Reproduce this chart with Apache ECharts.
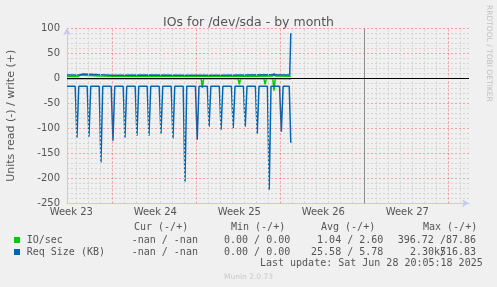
<!DOCTYPE html>
<html><head><meta charset="utf-8">
<script src="https://cdn.jsdelivr.net/npm/echarts@6/dist/echarts.min.js"></script>
<style>html,body{margin:0;padding:0;background:#f0f0f0;} #c{width:497px;height:287px;}</style>
</head><body><div id="c"></div>
<script>
// x unit: days, 0 = start (Monday) of Week 23
const xRange = [-3.78, 29.72];
const yRange = [-250, 100];
const weekLabels = ['Week 23', 'Week 24', 'Week 25', 'Week 26', 'Week 27'];
const weekLabelPos = [-3.42, 3.58, 10.58, 17.58, 24.58];
const weekBoundaries = [0, 7, 14, 21, 28];
const dayLines = [-3,-2,-1,1,2,3,4,5,6,8,9,10,11,12,13,15,16,17,18,19,20,22,23,24,25,26,27,29];
const nowLine = 21;

// IO/sec write (+)
const ioWrite = [[-3.78,3.5],[-2.9,3.5],[-2.7,6],[-2.4,6],[-2.25,4.5],[-1,4.5],[0,4],[2,4.5],[4,4],[6,4.5],
  [8,4],[10,4.5],[12,4],[13.35,4.5],[13.47,10],[13.6,4.5],[14.87,4]];
// IO/sec read (-)
const ioRead = [[-3.78,-0.8],[-3.46,-0.8],[-3.38,-2.5],[-3.3,-0.8],[-2.91,-0.8],[-2.83,-2.5],[-2.75,-0.8],
  [-1.94,-0.8],[-1.86,-2.5],[-1.78,-0.8],[-0.96,-0.8],[-0.88,-2.5],[-0.8,-0.8],[-0.02,-0.8],[0.06,-2.5],[0.14,-0.8],
  [0.98,-0.8],[1.06,-2.5],[1.14,-0.8],[2,-0.8],[2.08,-2.5],[2.16,-0.8],[3,-0.8],[3.08,-2.5],[3.16,-0.8],
  [3.98,-0.8],[4.06,-2.5],[4.14,-0.8],[5,-0.8],[5.08,-2.5],[5.16,-0.8],[5.98,-0.8],[6.06,-2.5],[6.14,-0.8],
  [7.4,-0.8],[7.5,-19],[7.6,-0.8],[8.06,-0.8],[8.14,-2.5],[8.22,-0.8],[9.02,-0.8],[9.1,-2.5],[9.18,-0.8],
  [9.98,-0.8],[10.06,-2.5],[10.14,-0.8],[10.48,-0.8],[10.58,-12],[10.68,-0.8],[11.12,-0.8],[11.2,-2.5],[11.28,-0.8],
  [12.06,-0.8],[12.14,-2.5],[12.22,-0.8],[12.63,-0.8],[12.73,-12],[12.83,-0.8],[13.37,-0.8],[13.47,-25],[13.57,-0.8],
  [14.02,-0.8],[14.1,-2.5],[14.18,-0.8],[14.75,-0.8],[14.83,-3],[14.87,-1]];
// Req Size write (+)
const reqWrite = [[-3.78,6.5],[-2.75,6.5],[-2.65,8.6],[-2.45,8.6],[-2.35,6.5],[0,6],[3,6.5],[6,6],[9,6],
  [11,6.5],[13,7],[14.78,6.5],[14.87,90]];
// Req Size read (-)
const reqRead = [[-3.78,-16],
  [-3.1,-16],[-2.95,-119],[-2.8,-16],[-2.1,-16],[-1.95,-117],[-1.8,-16],
  [-1.1,-16],[-0.95,-169],[-0.8,-16],[-0.1,-16],[0.05,-125],[0.2,-16],
  [0.9,-16],[1.05,-119],[1.2,-16],[1.9,-16],[2.05,-115],[2.2,-16],
  [2.9,-16],[3.05,-115],[3.2,-16],[3.9,-16],[4.05,-111],[4.2,-16],
  [4.9,-16],[5.05,-121],[5.2,-16],[5.9,-16],[6.05,-207],[6.2,-16],
  [6.92,-16],[7.07,-123],[7.22,-16],[7.91,-16],[8.06,-97],[8.21,-16],
  [8.91,-16],[9.06,-103],[9.21,-16],[9.92,-16],[10.07,-100],[10.22,-16],
  [10.92,-16],[11.07,-97],[11.22,-16],[11.92,-16],[12.07,-111],[12.22,-16],
  [12.92,-16],[13.07,-223],[13.22,-16],[13.93,-16],[14.08,-107],[14.23,-16],
  [14.74,-16],[14.87,-129]];

const legendHeader = ['Cur (-/+)', 'Min (-/+)', 'Avg (-/+)', 'Max (-/+)'];
const legendNames = ['IO/sec', 'Req Size (KB)'];
const legendColors = ['#00cc00', '#0066b3'];
const legendCur = ['-nan / -nan', '-nan / -nan'];
const legendMin = ['0.00 / 0.00', '0.00 / 0.00'];
const legendAvg = ['1.04 / 2.60', '25.58 / 5.78'];
const legendMax = ['396.72 /87.86', null];
const lastUpdate = 'Last update: Sat Jun 28 20:05:18 2025';

const FG = '#555';
const MONO = '"DejaVu Sans Mono", monospace';
const SANS = '"DejaVu Sans", sans-serif';
const mono = (text, x, y, align) => ({type:'text', x, y, style:{text, font:'10px '+MONO, fill:FG, align: align||'left', verticalAlign:'middle'}});

const rowY = [240, 252];
const graphics = [];
legendHeader.forEach((t, i) => graphics.push(mono(t, [134, 231, 321, 423][i], 227)));
legendNames.forEach((n, i) => {
  graphics.push({type:'rect', shape:{x:14, y:rowY[i]-3, width:6, height:6}, style:{fill:legendColors[i]}});
  graphics.push(mono(n, 26.7, rowY[i]));
  graphics.push(mono(legendCur[i], 131.7, rowY[i]));
  graphics.push(mono(legendMin[i], 224, rowY[i]));
  graphics.push(mono(legendAvg[i], 383.3, rowY[i], 'right'));
  if (legendMax[i]) graphics.push(mono(legendMax[i], 476, rowY[i], 'right'));
});
graphics.push(mono('2.30k', 440, rowY[1], 'right'));
graphics.push(mono('516.83', 476, rowY[1], 'right'));
graphics.push(mono('/', 440, rowY[1]));
graphics.push(mono(lastUpdate, 482.7, 263.5, 'right'));
graphics.push({type:'text', x:224, y:277, style:{text:'Munin 2.0.73', font:'7.5px '+SANS, fill:'#c8c8c8', verticalAlign:'middle'}});
graphics.push({type:'text', x:488.5, y:5, rotation:-Math.PI/2, style:{text:'RRDTOOL / TOBI OETIKER', font:'7.5px '+SANS, fill:'#c0c0c0', verticalAlign:'middle', align:'left'}});

const vLines = dayLines.map(d => ({xAxis:d, lineStyle:{color:'#d4d4d4', type:[2,2], width:1}}))
  .concat(weekBoundaries.map(d => ({xAxis:d, lineStyle:{color:'rgba(255,40,40,0.4)', type:[2,2], width:1}})))
  .concat([{xAxis:nowLine, lineStyle:{color:'#8c8c8c', type:'solid', width:1}}]);

const lineSeries = (name, data, color) => ({type:'line', name, data, showSymbol:false, symbol:'none', z:3,
  lineStyle:{color, width:1.5}, itemStyle:{color}, animation:false, silent:true});

const chart = echarts.init(document.getElementById('c'), null, {renderer:'canvas'});
chart.setOption({
  backgroundColor:'#f0f0f0',
  animation:false,
  title:{text:'IOs for /dev/sda - by month', left:'center', top:11, textStyle:{fontFamily:SANS, fontSize:12.5, fontWeight:'normal', color:FG}},
  grid:{left:67, top:28.3, width:402, height:175, containLabel:false, outerBoundsMode:'none'},
  xAxis:{type:'value', min:xRange[0], max:xRange[1],
    axisLine:{onZero:false, lineStyle:{color:'#c8c8f4', width:1}, symbol:['none','arrow'], symbolSize:[6,7]},
    axisTick:{show:false}, splitLine:{show:false},
    axisLabel:{customValues:weekLabelPos, formatter:(v)=>{const i = weekLabelPos.findIndex(p=>Math.abs(p-v)<0.01); return i>=0?weekLabels[i]:'';},
      color:FG, fontFamily:SANS, fontSize:10, margin:4}},
  yAxis:{type:'value', min:yRange[0], max:yRange[1], interval:50,
    name:'Units read (-) / write (+)', nameLocation:'middle', nameGap:50, nameTextStyle:{color:FG, fontFamily:SANS, fontSize:11},
    axisLine:{show:true, onZero:false, lineStyle:{color:'#c8c8f4', width:1}, symbol:['none','arrow'], symbolSize:[6,7]},
    axisTick:{show:false},
    axisLabel:{color:FG, fontFamily:SANS, fontSize:10, margin:7},
    splitLine:{show:true, lineStyle:{color:'rgba(255,40,40,0.4)', type:[2,2], width:1}},
    minorTick:{show:false, splitNumber:5},
    minorSplitLine:{show:true, lineStyle:{color:'#d4d4d4', type:[2,2], width:1}}},
  graphic:graphics,
  series:[
    {type:'line', data:[], z:1, silent:true, markLine:{symbol:['none','none'], silent:true, animation:false, label:{show:false}, data:vLines}},
    lineSeries('IO/sec write', ioWrite, '#00cc00'),
    lineSeries('IO/sec read', ioRead, '#00cc00'),
    lineSeries('Req write', reqWrite, '#0066b3'),
    lineSeries('Req read', reqRead, '#0066b3'),
    {type:'line', data:[], z:5, silent:true, markLine:{symbol:['none','none'], silent:true, animation:false, label:{show:false},
      data:[{yAxis:0, lineStyle:{color:'#000', type:'solid', width:1}}]}}
  ]
});
</script></body></html>
